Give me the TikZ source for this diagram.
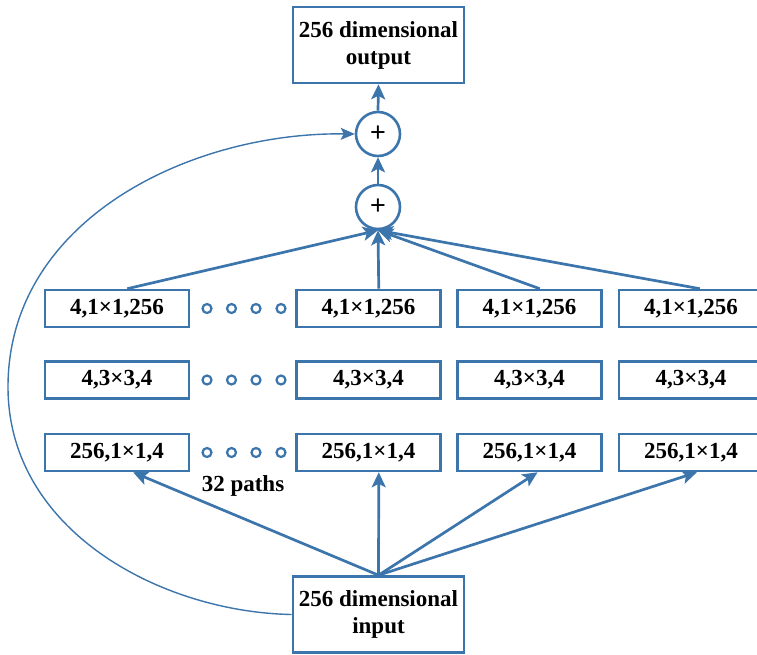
\documentclass[tikz,border=0pt]{standalone}
\usepackage{fontspec}
\setmainfont{Liberation Serif}
\newfontfamily\plusfont{Liberation Sans}
\usetikzlibrary{arrows.meta,calc}
\definecolor{stroke}{HTML}{3C74AC}
\begin{document}
\begin{tikzpicture}[x=1pt,y=-1pt,
  box/.style={draw=stroke,line width=2.6pt,minimum width=144pt,minimum height=37pt,
    inner sep=0pt,font=\fontsize{23}{27}\selectfont\bfseries},
  iobox/.style={box,minimum width=171pt,minimum height=76pt,align=center},
  sum/.style={circle,draw=stroke,line width=2.6pt,minimum size=44pt,inner sep=0pt,
    font=\plusfont\fontsize{27}{27}\selectfont},
  dot/.style={circle,draw=stroke,line width=2.2pt,minimum size=9pt,inner sep=0pt},
  flow/.style={draw=stroke,line width=2.7pt,-{Stealth[length=15pt,width=14pt,inset=3.5pt]}},
  skip/.style={draw=stroke,line width=1.4pt,-{Stealth[length=14pt,width=12pt,inset=3pt]}}
]
\useasboundingbox (0,0) rectangle (757,654);

% input / output
\node[iobox] (out) at (378.5,45) {256 dimensional\\output};
\node[iobox] (in) at (378.5,614.5) {256 dimensional\\input};

% summation nodes
\node[sum] (s2) at (378,134) {+};
\node[sum] (s1) at (378,207) {+};

% grouped convolution paths
\foreach \n/\x in {1/117,2/368.5,3/529.5,4/691}{
  \node[box] (a\n) at (\x,308.5) {4,1×1,256};
  \node[box] (b\n) at (\x,380) {4,3×3,4};
  \node[box] (c\n) at (\x,452.5) {256,1×1,4};
}

% ellipsis dots between the first and second path
\foreach \r/\y in {a/308.5,b/380,c/452.5}{
  \foreach \i/\x in {1/207,2/231.5,3/256,4/281}{
    \node[dot] (d\r\i) at (\x,\y) {};
  }
}

\node[font=\fontsize{23}{27}\selectfont\bfseries] (lbl) at (243,486) {32 paths};

% input to first layer of each path
\draw[flow] (in.north) -- ($(c1.south west)!0.61!(c1.south east)$);
\draw[flow] (in.north) -- ($(c2.south west)!0.57!(c2.south east)$);
\draw[flow] (in.north) -- ($(c3.south west)!0.555!(c3.south east)$);
\draw[flow] (in.north) -- ($(c4.south west)!0.54!(c4.south east)$);

% path outputs to aggregation
\draw[flow] ($(a1.north west)!0.57!(a1.north east)$) -- (s1.south);
\draw[flow] ($(a2.north west)!0.57!(a2.north east)$) -- (s1.south);
\draw[flow] ($(a3.north west)!0.57!(a3.north east)$) -- (s1.south);
\draw[flow] ($(a4.north west)!0.56!(a4.north east)$) -- (s1.south);

\draw[flow] (s1.north) -- (s2.south);
\draw[flow] (s2.north) -- (out.south);

% identity shortcut
\coordinate (bend) at (8,387);
\draw[skip] (in.west) .. controls (160,612) and (8,530) .. (bend)
  .. controls (8,220) and (190,132) .. (s2.west);
\end{tikzpicture}
\end{document}
